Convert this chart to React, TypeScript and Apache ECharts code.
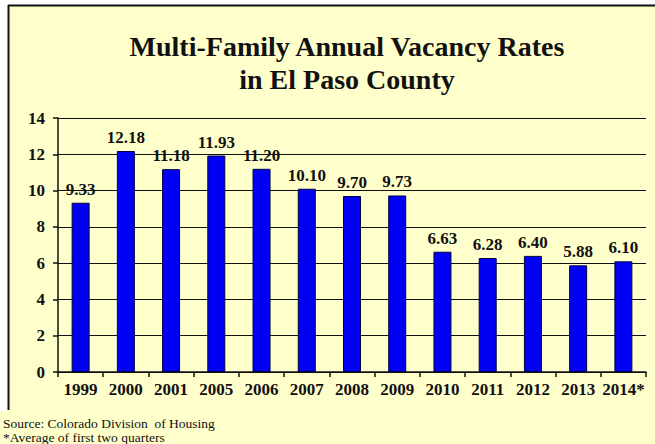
import React, { useEffect, useRef } from "react";
import * as echarts from "echarts";

const categories = ["1999", "2000", "2001", "2005", "2006", "2007", "2008", "2009", "2010", "2011", "2012", "2013", "2014*"];
const vacancyRates = [9.33, 12.18, 11.18, 11.93, 11.2, 10.1, 9.7, 9.73, 6.63, 6.28, 6.4, 5.88, 6.1];
const valueLabels = ["9.33", "12.18", "11.18", "11.93", "11.20", "10.10", "9.70", "9.73", "6.63", "6.28", "6.40", "5.88", "6.10"];
const titleLines = ["Multi-Family Annual Vacancy Rates", "in El Paso County"];
const footnotes = ["Source: Colorado Division  of Housing", "*Average of first two quarters"];

const SERIF = "Liberation Serif";

export default function App() {
  const ref = useRef<HTMLDivElement>(null);
  useEffect(() => {
    if (!ref.current) return;
    const chart = echarts.init(ref.current, null, { renderer: "svg" });
    chart.setOption({
      animation: false,
      backgroundColor: "#ffffff",
      textStyle: { fontFamily: SERIF },
      graphic: [
        { type: "rect", z: -10, shape: { x: 8, y: 5, width: 647, height: 439 }, style: { fill: "#FFFFCC" } },
        { type: "line", z: 5, shape: { x1: 8.5, y1: 5, x2: 8.5, y2: 410 }, style: { stroke: "#111", lineWidth: 2 } },
        { type: "line", z: 5, shape: { x1: 8, y1: 5.5, x2: 655, y2: 5.5 }, style: { stroke: "#111", lineWidth: 2 } },
        { type: "rect", z: 6, shape: { x: 0, y: 411, width: 240, height: 33 }, style: { fill: "#FFFFCC" } },
        {
          type: "text", z: 7, x: 347, y: 60,
          style: { text: titleLines[0], fontFamily: SERIF, fontWeight: "bold", fontSize: 28, fill: "#111", textAlign: "center", textVerticalAlign: "bottom" },
        },
        {
          type: "text", z: 7, x: 347, y: 93,
          style: { text: titleLines[1], fontFamily: SERIF, fontWeight: "bold", fontSize: 28, fill: "#111", textAlign: "center", textVerticalAlign: "bottom" },
        },
        {
          type: "text", z: 7, x: 3, y: 423,
          style: { text: footnotes[0], fontFamily: SERIF, fontSize: 13.5, fill: "#111", textAlign: "left", textVerticalAlign: "middle" },
        },
        {
          type: "text", z: 7, x: 3, y: 437,
          style: { text: footnotes[1], fontFamily: SERIF, fontSize: 13.5, fill: "#111", textAlign: "left", textVerticalAlign: "middle" },
        },
      ],
      grid: { left: 58, right: 9, top: 118, bottom: 72, containLabel: false },
      xAxis: {
        type: "category",
        data: categories,
        boundaryGap: true,
        axisLine: { show: true, lineStyle: { color: "#111", width: 1.5 } },
        axisTick: { show: true, length: 5, alignWithLabel: false, lineStyle: { color: "#111", width: 1.5 } },
        axisLabel: { color: "#111", fontFamily: SERIF, fontWeight: "bold", fontSize: 17, margin: 9, interval: 0 },
        splitLine: { show: false },
      },
      yAxis: {
        type: "value",
        min: 0,
        max: 14,
        interval: 2,
        axisLine: { show: true, lineStyle: { color: "#111", width: 1.5 } },
        axisTick: { show: true, length: 5, lineStyle: { color: "#111", width: 1.5 } },
        axisLabel: { color: "#111", fontFamily: SERIF, fontWeight: "bold", fontSize: 17, margin: 13 },
        splitLine: { show: true, lineStyle: { color: "#111", width: 1.2 } },
      },
      series: [
        {
          type: "bar",
          data: vacancyRates,
          barWidth: 18,
          itemStyle: { color: "#0000F5", borderColor: "#000040", borderWidth: 1 },
          label: {
            show: true,
            position: "top",
            distance: 5,
            fontFamily: SERIF,
            fontWeight: "bold",
            fontSize: 17,
            color: "#111",
            formatter: (p: any) => valueLabels[p.dataIndex],
          },
        },
      ],
    });
    return () => chart.dispose();
  }, []);
  return <div ref={ref} style={{ position: "fixed", left: 0, top: 0, width: 655, height: 444 }} />;
}
